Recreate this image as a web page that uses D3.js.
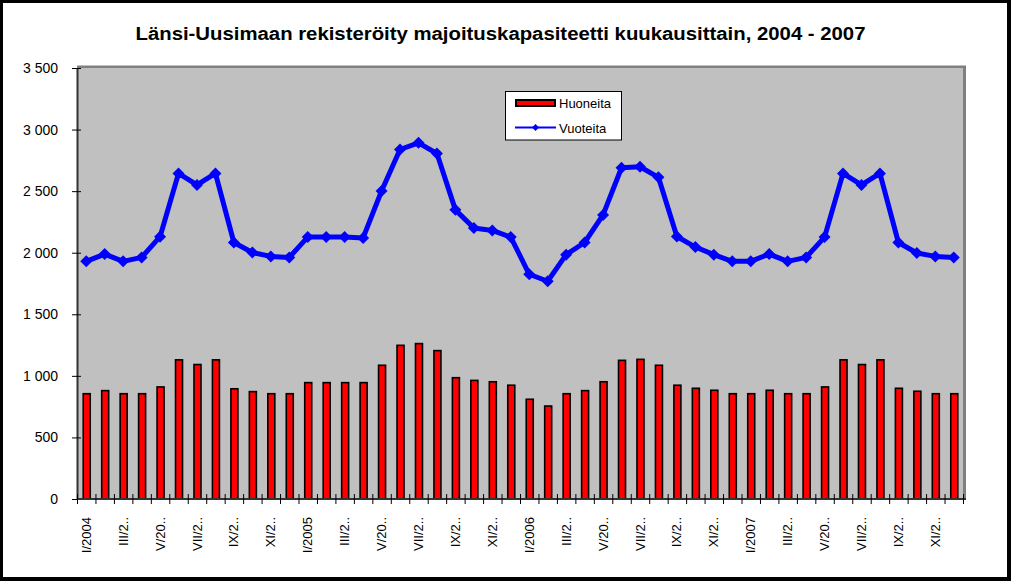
<!DOCTYPE html>
<html><head><meta charset="utf-8">
<script src="https://cdn.jsdelivr.net/npm/d3@7"></script>
<style>body{margin:0;background:#fff}svg{display:block;font-family:Arial,"Liberation Sans",sans-serif}</style>
</head><body>
<svg id="c" width="1011" height="581"></svg>
<script>
const romans = ["I","II","III","IV","V","VI","VII","VIII","IX","X","XI","XII"];
const years = [2004,2005,2006,2007];
const months = [];
years.forEach(y => romans.forEach(r => months.push(r + "/" + y)));
// labels shown on axis (every other month, truncated as in the original)
const tickLabels = ["I/2004","III/2..","V/20..","VII/2..","IX/2..","XI/2..",
  "I/2005","III/2..","V/20..","VII/2..","IX/2..","XI/2..",
  "I/2006","III/2..","V/20..","VII/2..","IX/2..","XI/2..",
  "I/2007","III/2..","V/20..","VII/2..","IX/2..","XI/2.."];
const huoneita = [855,880,855,855,910,1130,1092,1130,895,872,855,855,
  945,945,945,945,1086,1248,1262,1205,985,963,952,924,
  810,755,855,880,952,1126,1134,1086,924,899,883,855,
  855,883,855,855,910,1130,1092,1130,899,875,855,855];
const vuoteita = [1930,1989,1930,1962,2130,2644,2550,2644,2083,2002,1970,1962,
  2127,2127,2127,2120,2501,2838,2892,2806,2348,2200,2181,2127,
  1825,1768,1984,2083,2307,2690,2698,2612,2132,2046,1984,1930,
  1930,1989,1930,1962,2127,2644,2550,2644,2083,1998,1970,1962];
const yTicks = [0,500,1000,1500,2000,2500,3000,3500];
const title = "Länsi-Uusimaan rekisteröity majoituskapasiteetti kuukausittain, 2004 - 2007";
const seriesNames = ["Huoneita","Vuoteita"];

const svg = d3.select("#c");
const L = 77, R = 963, T = 68, B = 499;
const x = d3.scaleBand().domain(months).range([L, R]).paddingInner(0).paddingOuter(0);
const y = d3.scaleLinear().domain([0, 3500]).range([B, T]);

// outer border
svg.append("rect").attr("x",0).attr("y",0).attr("width",1011).attr("height",3).attr("fill","#000");
svg.append("rect").attr("x",0).attr("y",0).attr("width",3).attr("height",581).attr("fill","#000");
svg.append("rect").attr("x",1007).attr("y",0).attr("width",4).attr("height",581).attr("fill","#000");
svg.append("rect").attr("x",0).attr("y",577).attr("width",1011).attr("height",4).attr("fill","#000");

// title
svg.append("text").attr("x",500.5).attr("y",40).attr("text-anchor","middle")
  .attr("font-size",18).attr("font-weight","bold").attr("fill","#000")
  .attr("textLength",730).attr("lengthAdjust","spacingAndGlyphs").text(title);

// plot area with shadow (top and right)
svg.append("rect").attr("x",L).attr("y",T-2.5).attr("width",R-L+3).attr("height",B-T+2.5).attr("fill","#808080");
svg.append("rect").attr("x",L).attr("y",T).attr("width",R-L).attr("height",B-T).attr("fill","#c0c0c0");

// bars
const bw = 7;
svg.append("g").selectAll("rect").data(huoneita).join("rect")
  .attr("x",(d,i)=>x(months[i]) + x.bandwidth()/2 - bw/2 + 0.5)
  .attr("y",d=>y(d))
  .attr("width",bw).attr("height",d=>B - y(d))
  .attr("fill","#ff0000").attr("stroke","#000").attr("stroke-width",1.6);

// line
const line = d3.line().x((d,i)=>x(months[i]) + x.bandwidth()/2).y(d=>y(d));
svg.append("path").datum(vuoteita).attr("d",line).attr("fill","none")
  .attr("stroke","#0000ff").attr("stroke-width",5).attr("stroke-linejoin","round");
svg.append("g").selectAll("path").data(vuoteita).join("path")
  .attr("transform",(d,i)=>`translate(${x(months[i]) + x.bandwidth()/2},${y(d)})`)
  .attr("d","M0,-6L6,0L0,6L-6,0Z").attr("fill","#0000ff");

// y axis
const yAxis = d3.axisLeft(y).tickValues(yTicks).tickSizeInner(5).tickSizeOuter(0)
  .tickFormat(d => d3.format(",")(d).replace(/,/g, " "));
const gy = svg.append("g").attr("transform",`translate(${L},0)`).call(yAxis);
gy.select(".domain").attr("stroke","#333").attr("stroke-width",2);
gy.selectAll(".tick line").attr("x2",-5).attr("x1",4).attr("stroke","#000");
gy.selectAll(".tick text").attr("x",-19).attr("font-size",14).attr("fill","#000")
  .attr("font-family","Arial, 'Liberation Sans', sans-serif");

// x axis
const gx = svg.append("g").attr("transform",`translate(0,${B})`);
gx.append("line").attr("x1",L).attr("x2",R+3).attr("y1",0).attr("y2",0).attr("stroke","#333").attr("stroke-width",2);
const bounds = months.map(m => x(m)).concat([R]);
gx.selectAll("line.tk").data(bounds).join("line").attr("class","tk")
  .attr("x1",d=>d+0.5).attr("x2",d=>d+0.5).attr("y1",-5).attr("y2",5).attr("stroke","#000");
gx.selectAll("text").data(tickLabels).join("text")
  .attr("transform",(d,i)=>`translate(${x(months[i*2]) + x.bandwidth()/2},18) rotate(-90)`)
  .attr("text-anchor","end").attr("dy","0.35em").attr("font-size",13).attr("fill","#000")
  .text(d=>d);

// legend
const lg = svg.append("g");
lg.append("rect").attr("x",505.5).attr("y",91.5).attr("width",116).attr("height",48.5)
  .attr("fill","#fff").attr("stroke","#000").attr("stroke-width",1);
lg.append("rect").attr("x",516).attr("y",100).attr("width",39).attr("height",6)
  .attr("fill","#ff0000").attr("stroke","#000").attr("stroke-width",2);
lg.append("text").attr("x",559).attr("y",108).attr("font-size",13).text(seriesNames[0]);
lg.append("line").attr("x1",515).attr("x2",556).attr("y1",127.5).attr("y2",127.5)
  .attr("stroke","#0000ff").attr("stroke-width",2);
lg.append("path").attr("transform","translate(535.5,127.5)").attr("d","M0,-3.5L3.5,0L0,3.5L-3.5,0Z").attr("fill","#0000ff");
lg.append("text").attr("x",559).attr("y",132.5).attr("font-size",13).text(seriesNames[1]);
</script>
</body></html>
